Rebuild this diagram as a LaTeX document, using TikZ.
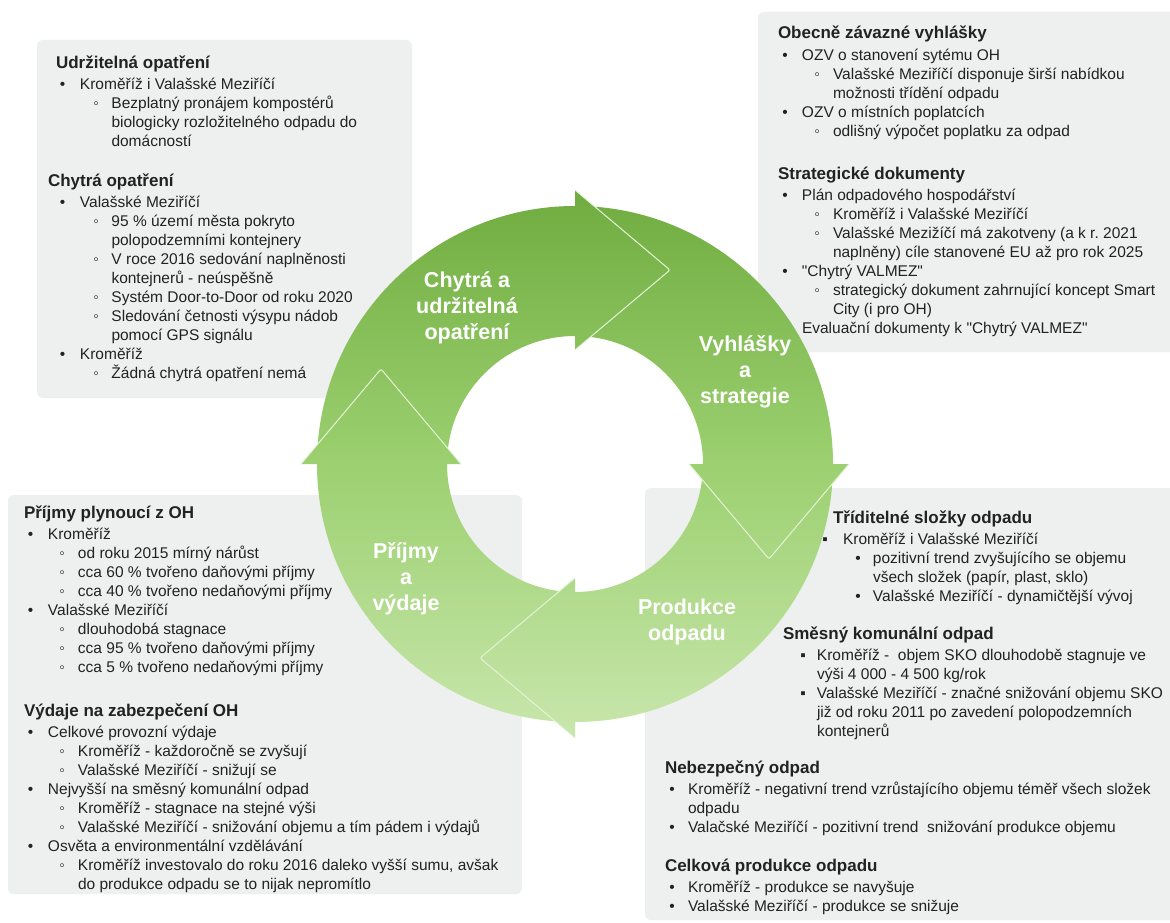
\documentclass[tikz,border=0pt]{standalone}
\usepackage{fontspec}
\setmainfont{Liberation Sans}[Ligatures=TeXOff]

\definecolor{boxgray}{HTML}{EEEFEF}
\definecolor{txt}{HTML}{222222}
\definecolor{gtop}{HTML}{6DAA3D}
\definecolor{gmid}{HTML}{9CD070}
\definecolor{gbot}{HTML}{CBE8B0}
\definecolor{edgeline}{HTML}{E4F2D6}

% heading line of a text block
\newcommand\hdg[1]{{\fontsize{17}{19}\selectfont\bfseries #1\par}\vspace{2.5pt}}
% list line: #1 text indent, #2 bullet centre distance before text, #3 bullet, #4 text
\newcommand\li[4]{\par\leftskip=#1pt\relax\noindent\llap{\hbox to 0pt{\hss#3\hss}\hskip#2pt}#4}
% whole text block
\newcommand\blk[1]{\parbox[t]{500pt}{\fontsize{15.5}{19}\selectfont\raggedright\frenchspacing\hyphenpenalty=10000 #1}}
% ring part filled with the common vertical gradient
\newcommand\ringpart[1]{\begin{scope}\clip #1; \shade[ringfill] (-290,-290) rectangle (290,290);\end{scope}}

\tikzset{
  infobox/.style={fill=boxgray, rounded corners=6pt},
  textblock/.style={anchor=base west, inner sep=0pt, outer sep=0pt, text=txt},
  ringfill/.style={top color=gtop, bottom color=gbot, middle color=gmid},
  headedge/.style={draw=edgeline, line width=1pt, rounded corners=2pt, line join=round},
  ringlabel/.style={text=white, font=\fontsize{21.5}{26}\selectfont\bfseries, align=center, inner sep=0pt},
}

\begin{document}
\begin{tikzpicture}[x=1pt, y=-1pt]
\useasboundingbox (0,0) rectangle (1170,923);
\fill[white] (0,0) rectangle (1170,923);

% grey information panels
\fill[infobox] (37,40) rectangle (412,398);
\fill[infobox] (758,12) rectangle (1180,352);
\fill[infobox] (8,495) rectangle (522,894);
\fill[infobox] (645,488) rectangle (1180,920);

% cycle of four arrows
\begin{scope}[shift={(575,464)}, x=1pt, y=1pt]
  % arrow bodies
  \ringpart{(90:258) arc[start angle=90, end angle=180, radius=258] -- (180:128) arc[start angle=180, end angle=90, radius=128] -- cycle}
  \ringpart{(0:258) arc[start angle=0, end angle=90, radius=258] -- (90:128) arc[start angle=90, end angle=0, radius=128] -- cycle}
  \ringpart{(-90:258) arc[start angle=-90, end angle=0, radius=258] -- (0:128) arc[start angle=0, end angle=-90, radius=128] -- cycle}
  \ringpart{(180:258) arc[start angle=180, end angle=270, radius=258] -- (270:128) arc[start angle=270, end angle=180, radius=128] -- cycle}
  % arrow heads
  \ringpart{(0,114) -- (0,274) -- (95,194) -- cycle}
  \ringpart{(114,0) -- (274,0) -- (194,-95) -- cycle}
  \ringpart{(0,-114) -- (0,-274) -- (-95,-194) -- cycle}
  \ringpart{(-114,0) -- (-274,0) -- (-194,95) -- cycle}
  \draw[headedge] (0,274) -- (95,194) -- (0,114);
  \draw[headedge] (274,0) -- (194,-95) -- (114,0);
  \draw[headedge] (0,-274) -- (-95,-194) -- (0,-114);
  \draw[headedge] (-274,0) -- (-194,95) -- (-114,0);
\end{scope}

% labels on the cycle
\node[ringlabel] (lchytra) at (467,308) {Chytrá a\\udržitelná\\opatření};
\node[ringlabel] (lvyhl) at (745,372) {Vyhlášky\\a\\strategie};
\node[ringlabel] (lprod) at (687,621.5) {Produkce\\odpadu};
\node[ringlabel] (lprij) at (406,578.5) {Příjmy\\a\\výdaje};

% top left panel
\node[textblock] (udrz) at (56,68.3) {\blk{\hdg{Udržitelná opatření}
\li{24}{17.5}{•}{Kroměříž i Valašské Meziříčí}
\li{55.5}{15.5}{◦}{Bezplatný pronájem kompostérů\newline biologicky rozložitelného odpadu do\newline domácností}}};
\node[textblock] (chytra) at (48,186) {\blk{\hdg{Chytrá opatření}
\li{32}{17.5}{•}{Valašské Meziříčí}
\li{63.5}{15.5}{◦}{95 \% území města pokryto\newline polopodzemními kontejnery}
\li{63.5}{15.5}{◦}{V roce 2016 sedování naplněnosti\newline kontejnerů - neúspěšně}
\li{63.5}{15.5}{◦}{Systém Door-to-Door od roku 2020}
\li{63.5}{15.5}{◦}{Sledování četnosti výsypu nádob\newline pomocí GPS signálu}
\li{32}{17.5}{•}{Kroměříž}
\li{63.5}{15.5}{◦}{Žádná chytrá opatření nemá}}};

% top right panel
\node[textblock] (ozv) at (778,39) {\blk{\hdg{Obecně závazné vyhlášky}
\li{24}{17}{•}{OZV o stanovení sytému OH}
\li{55}{16}{◦}{Valašské Meziříčí disponuje širší nabídkou\newline možnosti třídění odpadu}
\li{24}{17}{•}{OZV o místních poplatcích}
\li{55}{16}{◦}{odlišný výpočet poplatku za odpad}}};
\node[textblock] (strat) at (778,179) {\blk{\hdg{Strategické dokumenty}
\li{24}{17}{•}{Plán odpadového hospodářství}
\li{55}{16}{◦}{Kroměříž i Valašské Meziříčí}
\li{55}{16}{◦}{Valašské Mezižíčí má zakotveny (a k r. 2021\newline naplněny) cíle stanovené EU až pro rok 2025}
\li{24}{17}{•}{"Chytrý VALMEZ"}
\li{55}{16}{◦}{strategický dokument zahrnující koncept Smart\newline City (i pro OH)}
\li{24}{0}{}{Evaluační dokumenty k "Chytrý VALMEZ"}}};

% bottom left panel
\node[textblock] (prijmy) at (24,518) {\blk{\hdg{Příjmy plynoucí z OH}
\li{24}{17.5}{•}{Kroměříž}
\li{54}{16}{◦}{od roku 2015 mírný nárůst}
\li{54}{16}{◦}{cca 60 \% tvořeno daňovými příjmy}
\li{54}{16}{◦}{cca 40 \% tvořeno nedaňovými příjmy}
\li{24}{17.5}{•}{Valašské Meziříčí}
\li{54}{16}{◦}{dlouhodobá stagnace}
\li{54}{16}{◦}{cca 95 \% tvořeno daňovými příjmy}
\li{54}{16}{◦}{cca 5 \% tvořeno nedaňovými příjmy}}};
\node[textblock] (vydaje) at (24,716) {\blk{\hdg{Výdaje na zabezpečení OH}
\li{24}{17.5}{•}{Celkové provozní výdaje}
\li{54}{16}{◦}{Kroměříž - každoročně se zvyšují}
\li{54}{16}{◦}{Valašské Meziříčí - snižují se}
\li{24}{17.5}{•}{Nejvyšší na směsný komunální odpad}
\li{54}{16}{◦}{Kroměříž - stagnace na stejné výši}
\li{54}{16}{◦}{Valašské Meziříčí - snižování objemu a tím pádem i výdajů}
\li{24}{17.5}{•}{Osvěta a environmentální vzdělávání}
\li{54}{16}{◦}{Kroměříž investovalo do roku 2016 daleko vyšší sumu, avšak\newline do produkce odpadu se to nijak nepromítlo}}};

% bottom right panel
\node[textblock] (tridit) at (833,523) {\blk{\hdg{Tříditelné složky odpadu}
\li{10}{18}{▪}{Kroměříž i Valašské Meziříčí}
\li{40}{15}{•}{pozitivní trend zvyšujícího se objemu\newline všech složek (papír, plast, sklo)}
\li{40}{15}{•}{Valašské Meziříčí - dynamičtější vývoj}}};
\node[textblock] (smesny) at (783,639) {\blk{\hdg{Směsný komunální odpad}
\li{34}{14}{▪}{Kroměříž - \ objem SKO dlouhodobě stagnuje ve\newline výši 4~000 - 4~500 kg/rok}
\li{34}{14}{▪}{Valašské Meziříčí - značné snižování objemu SKO\newline již od roku 2011 po zavedení polopodzemních\newline kontejnerů}}};
\node[textblock] (nebezp) at (665,773) {\blk{\hdg{Nebezpečný odpad}
\li{23}{16}{•}{Kroměříž - negativní trend vzrůstajícího objemu téměř všech složek\newline odpadu}
\li{23}{16}{•}{Valačské Meziříčí - pozitivní trend \ snižování produkce objemu}}};
\node[textblock] (celkova) at (665,871) {\blk{\hdg{Celková produkce odpadu}
\li{23}{16}{•}{Kroměříž - produkce se navyšuje}
\li{23}{16}{•}{Valašské Meziříčí - produkce se snižuje}}};
\end{tikzpicture}
\end{document}
